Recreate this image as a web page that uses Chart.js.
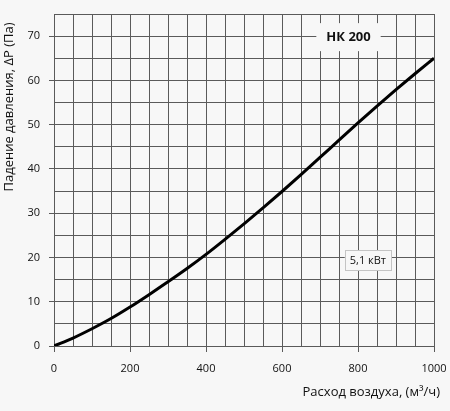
<!DOCTYPE html>
<html><head><meta charset="utf-8">
<script src="https://cdn.jsdelivr.net/npm/chart.js@4"></script>
<style>
html,body{margin:0;padding:0;background:#f7f7f7;}
#wrap{width:450px;height:411px;position:relative;}
</style></head>
<body><div id="wrap"><canvas id="c" width="450" height="411"></canvas></div>
<script>
const airflow = [0,50,100,150,200,250,300,350,400,450,500,550,600,650,700,750,800,850,900,950,1000];
const pressure = [0,1.8,3.9,6.2,8.8,11.6,14.5,17.5,20.7,24.1,27.6,31.2,34.9,38.7,42.6,46.5,50.4,54.2,57.9,61.5,65.0];
const modelLabel = "НК 200";
const modelPos = [775, 70];
const powerLabel = "5,1 кВт";
const powerPos = [826, 19.4];
const xTitle = "Расход воздуха, (м³/ч)";
const yTitle = "Падение давления, ΔP (Па)";

const FONT = "'Open Sans', sans-serif";
const GRID = '#5a5a5a';

const annot = {
  id:'annot',
  afterDatasetsDraw(chart){
    const ctx = chart.ctx, xs = chart.scales.x, ys = chart.scales.y;
    ctx.save();
    // model label
    let cx = xs.getPixelForValue(modelPos[0]), cy = ys.getPixelForValue(modelPos[1]);
    ctx.font = "bold 13px " + FONT;
    let w = ctx.measureText(modelLabel).width;
    ctx.fillStyle = '#f7f7f7';
    ctx.fillRect(cx - w/2 - 10, cy - 13, w + 20, 28);
    ctx.fillStyle = '#111';
    ctx.textAlign = 'center'; ctx.textBaseline = 'middle';
    ctx.fillText(modelLabel, cx, cy + 1);
    // power label
    cx = xs.getPixelForValue(powerPos[0]); cy = ys.getPixelForValue(powerPos[1]);
    ctx.font = "11px " + FONT;
    w = ctx.measureText(powerLabel).width;
    ctx.fillStyle = '#f7f7f7';
    ctx.fillRect(cx - w/2 - 5, cy - 10, w + 10, 20);
    ctx.strokeStyle = '#c4c4c4'; ctx.lineWidth = 1;
    ctx.strokeRect(Math.round(cx - w/2 - 5)+0.5, Math.round(cy - 10)+0.5, Math.round(w + 10), 20);
    ctx.fillStyle = '#111';
    ctx.fillText(powerLabel, cx, cy + 1);
    // axis titles
    ctx.font = "13px " + FONT;
    ctx.fillStyle = '#111';
    ctx.textAlign = 'right'; ctx.textBaseline = 'middle';
    ctx.fillText(xTitle, 440, 392);
    ctx.translate(9, 107);
    ctx.rotate(-Math.PI/2);
    ctx.textAlign = 'center';
    ctx.fillText(yTitle, 0, 0);
    ctx.restore();
  }
};

new Chart(document.getElementById('c'), {
  type:'scatter',
  data:{datasets:[{
    data: airflow.map((x,i)=>({x:x, y:pressure[i]})),
    showLine:true, borderColor:'#000', borderWidth:3, pointRadius:0,
    cubicInterpolationMode:'monotone', fill:false
  }]},
  options:{
    responsive:false, animation:false, devicePixelRatio:1,
    layout:{padding:{top:14,right:16,left:0,bottom:0}},
    plugins:{legend:{display:false}, tooltip:{enabled:false}},
    scales:{
      x:{
        type:'linear', min:0, max:1000,
        border:{color:GRID, width:1},
        grid:{color:GRID, lineWidth:1, tickLength:6,
          tickColor:(c)=> (c.tick && c.tick.value % 200 === 0) ? GRID : 'rgba(0,0,0,0)'},
        ticks:{stepSize:50, autoSkip:false, maxRotation:0, padding:10, color:'#111',
          font:{family:FONT, size:11},
          callback:(v)=> v % 200 === 0 ? String(v) : ''},
        afterFit:(s)=>{ s.height = 65; s.paddingLeft = 0; s.paddingRight = 0; }
      },
      y:{
        type:'linear', min:0, max:75,
        border:{color:GRID, width:1},
        grid:{color:GRID, lineWidth:1, tickLength:5,
          tickColor:(c)=> (c.tick && c.tick.value % 10 === 0 && c.tick.value<=70) ? GRID : 'rgba(0,0,0,0)'},
        ticks:{stepSize:5, autoSkip:false, padding:9, color:'#111',
          font:{family:FONT, size:11},
          callback:(v)=> (v % 10 === 0 && v <= 70) ? String(v) : ''},
        afterFit:(s)=>{ s.width = 54; s.paddingTop = 0; s.paddingBottom = 0; }
      }
    }
  },
  plugins:[annot]
});
</script></body></html>
